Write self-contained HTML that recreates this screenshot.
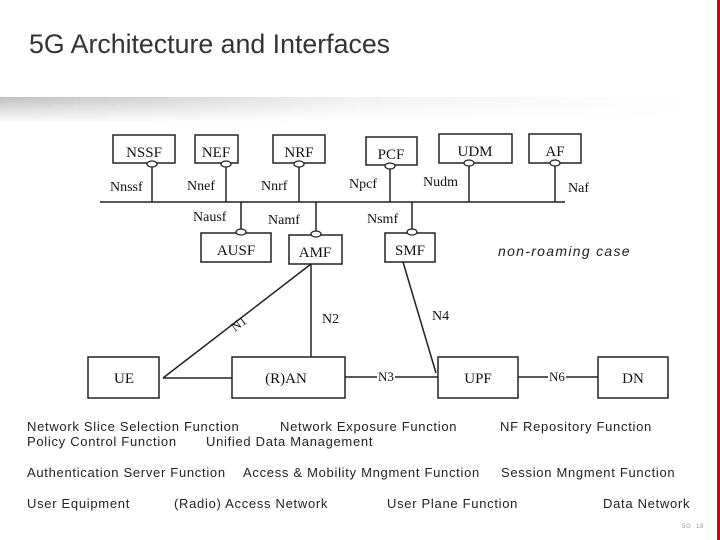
<!DOCTYPE html>
<html><head><style>
body{margin:0;width:720px;height:540px;background:#fff;position:relative;overflow:hidden;font-family:"Liberation Sans",sans-serif}
.t{position:absolute;font-size:13px;color:#222;white-space:nowrap;letter-spacing:0.7px}
</style></head><body>
<div style="position:absolute;left:29px;top:29px;font-size:27px;color:#333;transform:scaleX(0.99);transform-origin:left">5G Architecture and Interfaces</div>
<div style="position:absolute;left:0;top:97px;width:690px;height:26px;background:linear-gradient(to right,rgba(0,0,0,0.25),rgba(0,0,0,0.06) 50%,rgba(0,0,0,0));-webkit-mask:linear-gradient(to bottom,#000,transparent)"></div>
<div style="position:absolute;left:717px;top:0;width:3px;height:540px;background:#d00"></div>
<svg width="720" height="540" style="position:absolute;left:0;top:0" font-family="Liberation Serif,serif" font-size="15">
<g fill="#fff" stroke="#222" stroke-width="1.5">
<rect x="113" y="135" width="62" height="28"/><rect x="195" y="135" width="43" height="28"/>
<rect x="273" y="135" width="52" height="28"/><rect x="366" y="137" width="51" height="28"/>
<rect x="439" y="134" width="73" height="29"/><rect x="529" y="134" width="52" height="29"/>
<rect x="201" y="233" width="70" height="29"/><rect x="289" y="235" width="53" height="29"/>
<rect x="385" y="233" width="50" height="29"/>
<rect x="88" y="357" width="71" height="41"/><rect x="232" y="357" width="113" height="41"/>
<rect x="438" y="357" width="80" height="41"/><rect x="598" y="357" width="70" height="41"/>
</g>
<g stroke="#222" stroke-width="1.5" fill="none">
<line x1="100" y1="202" x2="565" y2="202"/>
<line x1="152" y1="166" x2="152" y2="202"/><line x1="226" y1="166" x2="226" y2="202"/>
<line x1="299" y1="166" x2="299" y2="202"/><line x1="390" y1="168" x2="390" y2="202"/>
<line x1="469" y1="166" x2="469" y2="202"/><line x1="555" y1="166" x2="555" y2="202"/>
<line x1="241" y1="202" x2="241" y2="230"/><line x1="316" y1="202" x2="316" y2="232"/>
<line x1="412" y1="202" x2="412" y2="230"/>
<line x1="311" y1="264" x2="163" y2="378"/><line x1="311" y1="264" x2="311" y2="357"/>
<line x1="163" y1="378" x2="232" y2="378"/><line x1="403" y1="262" x2="436" y2="373"/>
<line x1="345" y1="377" x2="438" y2="377"/><line x1="518" y1="377" x2="598" y2="377"/>
</g>
<g fill="#fff" stroke="#222" stroke-width="1.3">
<ellipse cx="152" cy="164" rx="5" ry="3"/><ellipse cx="226" cy="164" rx="5" ry="3"/>
<ellipse cx="299" cy="164" rx="5" ry="3"/><ellipse cx="390" cy="166" rx="5" ry="3"/>
<ellipse cx="469" cy="163" rx="5" ry="3"/><ellipse cx="555" cy="163" rx="5" ry="3"/>
<ellipse cx="241" cy="232" rx="5" ry="3"/><ellipse cx="316" cy="234" rx="5" ry="3"/>
<ellipse cx="412" cy="232" rx="5" ry="3"/>
</g>
<g fill="#111" text-anchor="middle">
<text x="144" y="157">NSSF</text><text x="216" y="157">NEF</text><text x="299" y="157">NRF</text>
<text x="391" y="159">PCF</text><text x="475" y="156">UDM</text><text x="555" y="156">AF</text>
<text x="236" y="255">AUSF</text><text x="315" y="257">AMF</text><text x="410" y="255">SMF</text>
<text x="124" y="383">UE</text><text x="286" y="383">(R)AN</text><text x="478" y="383">UPF</text><text x="633" y="383">DN</text>
</g>
<g fill="#111" font-size="14">
<text x="110" y="191">Nnssf</text><text x="187" y="190">Nnef</text><text x="261" y="190">Nnrf</text>
<text x="349" y="188">Npcf</text><text x="423" y="186">Nudm</text><text x="568" y="192">Naf</text>
<text x="193" y="221">Nausf</text><text x="268" y="224">Namf</text><text x="367" y="223">Nsmf</text>
<text x="322" y="323">N2</text><text x="432" y="320">N4</text>
<text x="239" y="328" font-size="13" transform="rotate(-37 239 324)" text-anchor="middle">N1</text>
</g>
<rect x="377" y="370" width="18" height="13" fill="#fff"/><text x="386" y="381" font-size="13" text-anchor="middle" fill="#111">N3</text>
<rect x="548" y="370" width="18" height="13" fill="#fff"/><text x="557" y="381" font-size="13" text-anchor="middle" fill="#111">N6</text>
</svg>
<div class="t" style="left:498px;top:243px;font-style:italic;font-size:14px;letter-spacing:1.3px">non-roaming case</div>
<div class="t" style="left:27px;top:419px">Network Slice Selection Function</div>
<div class="t" style="left:280px;top:419px">Network Exposure Function</div>
<div class="t" style="left:500px;top:419px">NF Repository Function</div>
<div class="t" style="left:27px;top:434px">Policy Control Function</div>
<div class="t" style="left:206px;top:434px">Unified Data Management</div>
<div class="t" style="left:27px;top:465px">Authentication Server Function</div>
<div class="t" style="left:243px;top:465px">Access &amp; Mobility Mngment Function</div>
<div class="t" style="left:501px;top:465px">Session Mngment Function</div>
<div class="t" style="left:27px;top:496px">User Equipment</div>
<div class="t" style="left:174px;top:496px">(Radio) Access Network</div>
<div class="t" style="left:387px;top:496px">User Plane Function</div>
<div class="t" style="left:603px;top:496px">Data Network</div>
<div class="t" style="left:682px;top:524px;font-size:6px;color:#999">5G &nbsp;18</div>
</body></html>
